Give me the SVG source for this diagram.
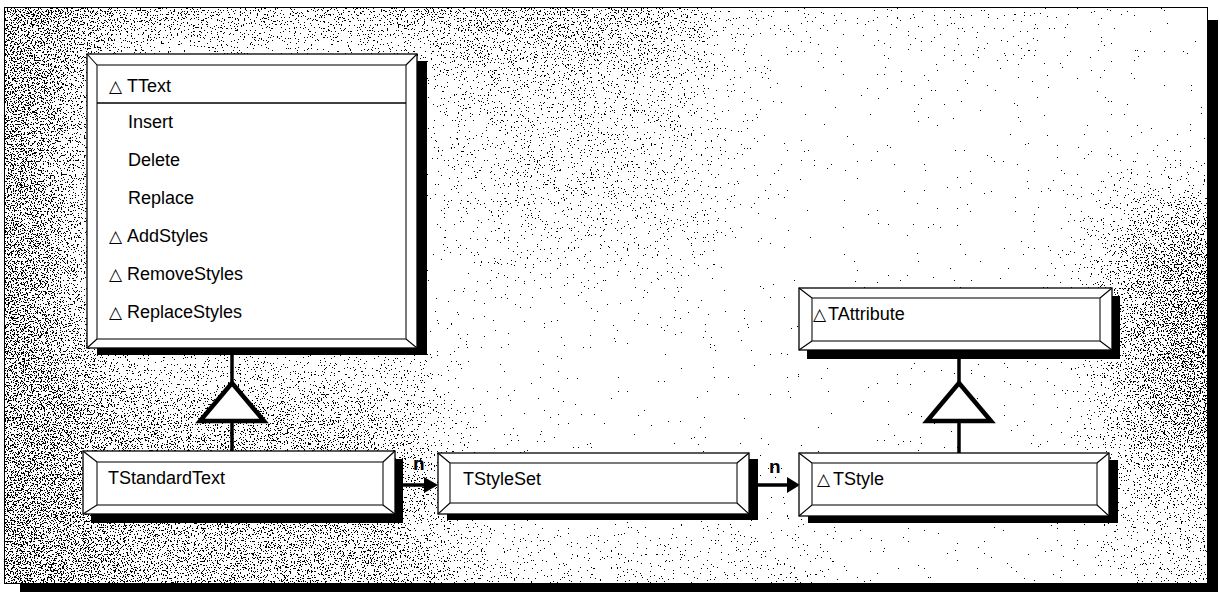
<svg xmlns="http://www.w3.org/2000/svg" width="1220" height="593" viewBox="0 0 1220 593">
<defs>
<style>
 text{font-family:"Liberation Sans","DejaVu Sans",sans-serif;font-size:18px;fill:#000}
 .tri{font-family:"DejaVu Sans",sans-serif;font-size:17px}
 .n{font-weight:bold;font-size:19px}
 .shadow{fill:#000}
 .outer{fill:#fff;stroke:#000;stroke-width:1.3}
 .inner{fill:#fff;stroke:#333;stroke-width:1.3}
 .bevel{stroke:#000;stroke-width:1.1;fill:none}
 .link{stroke:#000;stroke-width:3.5;fill:none}
 .inh{stroke:#000;stroke-width:4.5;fill:#fff;stroke-linejoin:miter}
 .head{fill:#000}
</style>
<clipPath id="frameClip"><rect x="5" y="8" width="1202" height="575"/></clipPath>
<filter id="stipple" filterUnits="userSpaceOnUse" x="-300" y="-300" width="1820" height="1200" color-interpolation-filters="sRGB">
  <feGaussianBlur in="SourceAlpha" stdDeviation="45" result="dens"/>
  <feTurbulence type="fractalNoise" baseFrequency="0.7" numOctaves="2" seed="7" result="noise"/>
  <feColorMatrix in="noise" type="matrix" values="0 0 0 0 0  0 0 0 0 0  0 0 0 0 0  1 0 0 0 0" result="na"/>
  <feComposite in="na" in2="dens" operator="arithmetic" k1="0" k2="1" k3="0.3" k4="-0.36" result="sum"/>
  <feComponentTransfer in="sum"><feFuncA type="discrete" tableValues="0 1"/></feComponentTransfer>
</filter>
</defs>

<!-- frame -->
<g id="frame">
  <rect x="20" y="20" width="1198" height="572" fill="#000"/>
  <rect x="4.5" y="7.5" width="1203" height="576" fill="#fff" stroke="#000" stroke-width="1"/>
  <g clip-path="url(#frameClip)">
    <g filter="url(#stipple)">
      <rect x="-300" y="-300" width="1820" height="1200" fill="#000" fill-opacity="0.2"/>
      <rect x="-300" y="-300" width="400" height="1200" fill="#000"/>
      <rect x="-300" y="-300" width="1000" height="350" fill="#000" fill-opacity="0.85"/>
      <rect x="700" y="-300" width="400" height="330" fill="#000" fill-opacity="0.4"/>
      <rect x="1100" y="190" width="400" height="280" fill="#000"/>
      <rect x="-300" y="360" width="750" height="600" fill="#000" fill-opacity="0.8"/>
      <rect x="430" y="50" width="300" height="220" fill="#000" fill-opacity="0.45"/>
      <rect x="450" y="525" width="400" height="400" fill="#000" fill-opacity="0.4"/>
      <rect x="1100" y="470" width="400" height="500" fill="#000" fill-opacity="0.5"/>
    </g>
  </g>
</g>

<!-- connectors -->
<g id="connectors">
  <line class="link" x1="232" y1="348" x2="232" y2="384"/>
  <line class="link" x1="232" y1="420" x2="232" y2="452"/>
  <polygon class="inh" points="232,383 200,421 264,421"/>
  <line class="link" x1="959" y1="350" x2="959" y2="384"/>
  <line class="link" x1="959" y1="420" x2="959" y2="454"/>
  <polygon class="inh" points="959,383 927,421 991,421"/>
  <line class="link" x1="402" y1="485" x2="426" y2="485"/>
  <polygon class="head" points="424,477 438,485 424,493"/>
  <text class="n" x="413" y="470">n</text>
  <line class="link" x1="757" y1="485" x2="789" y2="485"/>
  <polygon class="head" points="787,477 800,485 787,493"/>
  <text class="n" x="769" y="473">n</text>
</g>

<!-- TText -->
<g id="TText">
  <rect class="shadow" x="97" y="61" width="330" height="294"/>
  <rect class="outer" x="87" y="54" width="330" height="294"/>
  <rect class="inner" x="97" y="65" width="309" height="274"/>
  <path class="bevel" d="M87,54 L97,65 M417,54 L406,65 M87,348 L97,339 M417,348 L406,339"/>
  <line x1="97" y1="103" x2="406" y2="103" stroke="#000" stroke-width="1.3"/>
  <text x="109" y="92"><tspan class="tri">△</tspan><tspan x="127">TText</tspan></text>
  <text x="128" y="128">Insert</text>
  <text x="128" y="166">Delete</text>
  <text x="128" y="204">Replace</text>
  <text x="109" y="242"><tspan class="tri">△</tspan><tspan x="127">AddStyles</tspan></text>
  <text x="109" y="280"><tspan class="tri">△</tspan><tspan x="127">RemoveStyles</tspan></text>
  <text x="109" y="318"><tspan class="tri">△</tspan><tspan x="127">ReplaceStyles</tspan></text>
</g>

<!-- TStandardText -->
<g id="TStandardText">
  <rect class="shadow" x="91" y="459" width="312" height="64"/>
  <rect class="outer" x="83" y="451" width="312" height="63"/>
  <rect class="inner" x="97" y="462" width="286" height="43"/>
  <path class="bevel" d="M83,451 L97,462 M395,451 L383,462 M83,514 L97,505 M395,514 L383,505"/>
  <text x="108" y="484">TStandardText</text>
</g>

<!-- TStyleSet -->
<g id="TStyleSet">
  <rect class="shadow" x="447" y="459" width="311" height="61"/>
  <rect class="outer" x="438" y="453" width="311" height="61"/>
  <rect class="inner" x="450" y="463" width="287" height="40"/>
  <path class="bevel" d="M438,453 L450,463 M749,453 L737,463 M438,514 L450,503 M749,514 L737,503"/>
  <text x="463" y="485">TStyleSet</text>
</g>

<!-- TStyle -->
<g id="TStyle">
  <rect class="shadow" x="808" y="460" width="310" height="63"/>
  <rect class="outer" x="799" y="453" width="310" height="63"/>
  <rect class="inner" x="812" y="463" width="285" height="42"/>
  <path class="bevel" d="M799,453 L812,463 M1109,453 L1097,463 M799,516 L812,505 M1109,516 L1097,505"/>
  <text x="817" y="485"><tspan class="tri">△</tspan><tspan x="833">TStyle</tspan></text>
</g>

<!-- TAttribute -->
<g id="TAttribute">
  <rect class="shadow" x="807" y="296" width="313" height="63"/>
  <rect class="outer" x="799" y="288" width="313" height="62"/>
  <rect class="inner" x="812" y="298" width="288" height="43"/>
  <path class="bevel" d="M799,288 L812,298 M1112,288 L1100,298 M799,350 L812,341 M1112,350 L1100,341"/>
  <text x="813" y="320"><tspan class="tri">△</tspan><tspan x="828">TAttribute</tspan></text>
</g>
</svg>
